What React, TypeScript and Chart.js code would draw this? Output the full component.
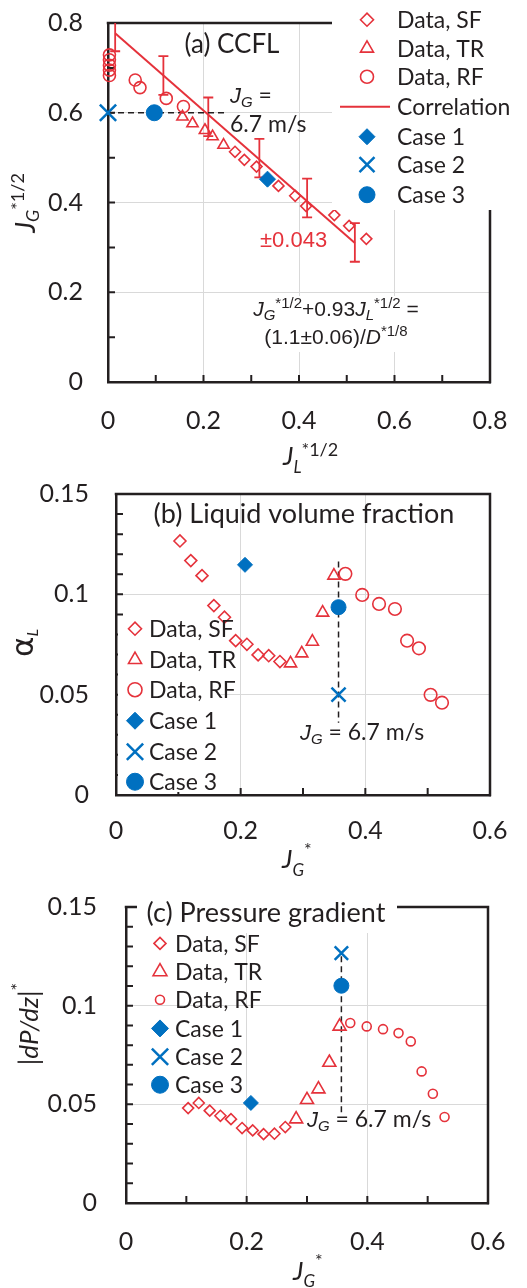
import React, { useEffect, useRef } from 'react';
import { Chart, registerables } from 'chart.js';

Chart.register(...registerables);

const RED = '#E5323B';
const BLUE = '#0070C0';
const INK = '#231F20';
const GRID = '#D9D9D9';
const SANS = 'Lato, "Open Sans", sans-serif';
const ARIAL = '"Liberation Sans", Arial, sans-serif';
const SYMBOL = '"DejaVu Sans", sans-serif';

// ---------- (a) CCFL: JG*^1/2 versus JL*^1/2 ----------
const ccflSfX = [0.266, 0.2855, 0.311, 0.357, 0.392, 0.415, 0.474, 0.505, 0.541];
const ccflSfY = [0.513, 0.495, 0.48, 0.437, 0.415, 0.392, 0.372, 0.348, 0.319];
const ccflTrX = [0.156, 0.177, 0.203, 0.219, 0.242];
const ccflTrY = [0.591, 0.576, 0.561, 0.547, 0.528];
const ccflRfX = [0.003, 0.003, 0.003, 0.003, 0.003, 0.057, 0.067, 0.122, 0.158];
const ccflRfY = [0.729, 0.718, 0.706, 0.695, 0.683, 0.673, 0.656, 0.632, 0.614];
const correlationX = [0.015, 0.517];
const correlationY = [0.777, 0.31];
const errBarX = [0.015, 0.116, 0.21, 0.317, 0.417, 0.517];
const errBarY = [0.78, 0.683, 0.591, 0.499, 0.41, 0.311];
const errBarHalf = 0.043;
// Case 1, Case 2, Case 3
const ccflCaseX = [0.334, 0, 0.097];
const ccflCaseY = [0.452, 0.6, 0.6];
const ccflGuideX = [0, 0.25];
const ccflGuideY = [0.6, 0.6];
const ccflTicks = [0, 0.1, 0.2, 0.3, 0.4, 0.5, 0.6, 0.7, 0.8];
const ccflLabels = [0, 0.2, 0.4, 0.6, 0.8];

// ---------- (b) liquid volume fraction versus JG* ----------
const alphaSfX = [0.1026, 0.12, 0.138, 0.157, 0.174, 0.192, 0.21, 0.228, 0.245, 0.263];
const alphaSfY = [0.1266, 0.1168, 0.1093, 0.0944, 0.0886, 0.0769, 0.0751, 0.0698, 0.0694, 0.0665];
const alphaTrX = [0.28, 0.298, 0.315, 0.3315, 0.3496];
const alphaTrY = [0.0656, 0.0706, 0.0764, 0.0909, 0.1093];
const alphaRfX = [0.368, 0.395, 0.422, 0.4475, 0.467, 0.486, 0.5047, 0.523];
const alphaRfY = [0.1102, 0.0997, 0.0952, 0.0927, 0.0769, 0.0731, 0.0499, 0.046];
const alphaCaseX = [0.207, 0.357, 0.357];
const alphaCaseY = [0.1147, 0.05, 0.0936];
const alphaGuideX = [0.357, 0.357];
const alphaGuideY = [0.1163, 0.036];

// ---------- (c) pressure gradient versus JG* ----------
const dpSfX = [0.103, 0.1206, 0.1388, 0.1565, 0.174, 0.1924, 0.21, 0.228, 0.246, 0.264];
const dpSfY = [0.0481, 0.0507, 0.0468, 0.0442, 0.0425, 0.038, 0.0368, 0.0349, 0.0351, 0.0385];
const dpTrX = [0.282, 0.3, 0.319, 0.337, 0.354];
const dpTrY = [0.0425, 0.0523, 0.0577, 0.0712, 0.0895];
const dpRfX = [0.3717, 0.399, 0.426, 0.4517, 0.472, 0.49, 0.5086, 0.528];
const dpRfY = [0.0912, 0.0895, 0.0881, 0.0861, 0.0819, 0.0667, 0.0554, 0.0436];
const dpCaseX = [0.207, 0.357, 0.357];
const dpCaseY = [0.0507, 0.1266, 0.1101];
const dpGuideX = [0.357, 0.357];
const dpGuideY = [0.125, 0.0447];

const jgTicks = [0, 0.1, 0.2, 0.3, 0.4, 0.5, 0.6];
const jgLabels = [0, 0.2, 0.4, 0.6];
const smallTicks = [0, 0.01, 0.02, 0.03, 0.04, 0.05, 0.06, 0.07, 0.08, 0.09, 0.1, 0.11, 0.12, 0.13, 0.14, 0.15];
const smallLabels = [0, 0.05, 0.1, 0.15];

// ---------- drawing helpers ----------
type Part = { t: string; f: string; dy?: number; c?: string };
type Mark = { label: string; style: string; r: number; color: string; fill: boolean; lw: number };

const LEGEND_SIZE = 23;

function drawRich(ctx: CanvasRenderingContext2D, x: number, y: number, parts: Part[], align = 'left', color = INK) {
  let total = 0;
  for (const p of parts) {
    ctx.font = p.f;
    total += ctx.measureText(p.t).width;
  }
  let cx = align === 'left' ? x : align === 'center' ? x - total / 2 : x - total;
  ctx.textAlign = 'left';
  ctx.textBaseline = 'alphabetic';
  for (const p of parts) {
    ctx.font = p.f;
    ctx.fillStyle = p.c || color;
    ctx.fillText(p.t, cx, y + (p.dy || 0));
    cx += ctx.measureText(p.t).width;
  }
}

function drawRichUp(ctx: CanvasRenderingContext2D, x: number, y: number, parts: Part[]) {
  ctx.save();
  ctx.translate(x, y);
  ctx.rotate(-Math.PI / 2);
  drawRich(ctx, 0, 0, parts, 'center');
  ctx.restore();
}

function drawMarker(ctx: CanvasRenderingContext2D, m: Mark, x: number, y: number) {
  const r = m.r;
  ctx.save();
  ctx.strokeStyle = m.color;
  ctx.fillStyle = m.color;
  ctx.lineWidth = m.lw;
  ctx.beginPath();
  if (m.style === 'line') {
    ctx.moveTo(x - 27, y);
    ctx.lineTo(x + 23, y);
  } else if (m.style === 'rectRot') {
    ctx.moveTo(x - r, y);
    ctx.lineTo(x, y - r);
    ctx.lineTo(x + r, y);
    ctx.lineTo(x, y + r);
    ctx.closePath();
  } else if (m.style === 'triangle') {
    ctx.moveTo(x, y - r);
    ctx.lineTo(x + 0.866 * r, y + 0.5 * r);
    ctx.lineTo(x - 0.866 * r, y + 0.5 * r);
    ctx.closePath();
  } else if (m.style === 'crossRot') {
    const o = r * Math.SQRT1_2;
    ctx.moveTo(x - o, y - o);
    ctx.lineTo(x + o, y + o);
    ctx.moveTo(x + o, y - o);
    ctx.lineTo(x - o, y + o);
  } else {
    ctx.arc(x, y, r, 0, Math.PI * 2);
  }
  if (m.fill) ctx.fill();
  ctx.stroke();
  ctx.restore();
}

function drawLegend(ctx: CanvasRenderingContext2D, marks: Mark[], mx: number, tx: number, baselines: number[], size: number) {
  marks.forEach((m, i) => {
    const by = baselines[i];
    drawMarker(ctx, m, mx, by - 0.36 * size);
    ctx.font = `${size}px ${SANS}`;
    ctx.fillStyle = INK;
    ctx.textAlign = 'left';
    ctx.textBaseline = 'alphabetic';
    ctx.fillText(m.label, tx, by);
  });
}

// inward tick marks plus the top and right edges of the plot frame
function drawFrame(chart: any) {
  const { ctx, chartArea: a } = chart;
  const xs = chart.scales.x;
  const ys = chart.scales.y;
  ctx.save();
  ctx.strokeStyle = INK;
  ctx.lineWidth = 2;
  ctx.beginPath();
  for (const t of xs.ticks) {
    if (t.value === xs.min) continue;
    const px = xs.getPixelForValue(t.value);
    ctx.moveTo(px, a.bottom);
    ctx.lineTo(px, a.bottom - 7);
  }
  for (const t of ys.ticks) {
    if (t.value === ys.min) continue;
    const py = ys.getPixelForValue(t.value);
    ctx.moveTo(a.left, py);
    ctx.lineTo(a.left + 7, py);
  }
  ctx.stroke();
  ctx.lineWidth = 2.5;
  ctx.beginPath();
  ctx.moveTo(a.left - 1.25, a.top);
  ctx.lineTo(a.right, a.top);
  ctx.lineTo(a.right, a.bottom + 1.25);
  ctx.stroke();
  ctx.restore();
}

function linAxis(kind: 'x' | 'y', ticks: number[], labels: number[], size: number, pad: number, fontSize = 25) {
  const min = ticks[0];
  const max = ticks[ticks.length - 1];
  return {
    type: 'linear',
    position: kind === 'x' ? 'bottom' : 'left',
    min,
    max,
    afterBuildTicks: (s: any) => {
      s.ticks = ticks.map((v) => ({ value: v }));
    },
    afterFit: (s: any) => {
      if (kind === 'x') s.height = size;
      else s.width = size;
      s.paddingTop = 0;
      s.paddingBottom = 0;
      s.paddingLeft = 0;
      s.paddingRight = 0;
    },
    ticks: {
      autoSkip: false,
      maxRotation: 0,
      minRotation: 0,
      padding: pad,
      color: INK,
      font: { family: SANS, size: fontSize },
      callback: (v: number) => (labels.includes(v) ? String(v) : ''),
    },
    grid: {
      drawTicks: false,
      lineWidth: 1,
      color: (c: any) => {
        const v = c.tick ? c.tick.value : undefined;
        return v !== undefined && v !== min && v !== max && labels.includes(v) ? GRID : 'rgba(0,0,0,0)';
      },
    },
    border: { display: true, color: INK, width: 2.5 },
  };
}

const pts = (xs: number[], ys: number[]) => xs.map((x, i) => ({ x, y: ys[i] }));

function markSet(m: Mark, xs: number[], ys: number[]) {
  return {
    label: m.label,
    data: pts(xs, ys),
    showLine: false,
    pointStyle: m.style,
    pointRadius: m.r,
    pointHoverRadius: m.r,
    pointBorderWidth: m.lw,
    pointBorderColor: m.color,
    pointBackgroundColor: m.fill ? m.color : 'rgba(0,0,0,0)',
    borderColor: m.color,
    backgroundColor: m.color,
    clip: false,
  };
}

function lineSet(label: string, xs: number[], ys: number[], color: string, width: number, dash: number[] = []) {
  return {
    label,
    data: pts(xs, ys),
    showLine: true,
    pointRadius: 0,
    borderColor: color,
    borderWidth: width,
    borderDash: dash,
    fill: false,
    clip: false,
  };
}

function baseOptions(padding: any, x: any, y: any) {
  return {
    responsive: false,
    animation: false,
    devicePixelRatio: 1,
    events: [],
    layout: { padding },
    scales: { x, y },
    plugins: { legend: { display: false }, tooltip: { enabled: false } },
  };
}

const jgEq: Part[] = [
  { t: 'J', f: `italic 22px ${ARIAL}` },
  { t: 'G', f: `italic 15px ${ARIAL}`, dy: 4 },
  { t: ' = 6.7 m/s', f: `23px ${SANS}` },
];

// ---------- panel (a) ----------
function ccflConfig(): any {
  const sf: Mark = { label: 'Data, SF', style: 'rectRot', r: 5.5, color: RED, fill: false, lw: 1.6 };
  const tr: Mark = { label: 'Data, TR', style: 'triangle', r: 6.5, color: RED, fill: false, lw: 1.6 };
  const rf: Mark = { label: 'Data, RF', style: 'circle', r: 6, color: RED, fill: false, lw: 1.6 };
  const c1: Mark = { label: 'Case 1', style: 'rectRot', r: 8, color: BLUE, fill: true, lw: 1 };
  const c2: Mark = { label: 'Case 2', style: 'crossRot', r: 11.5, color: BLUE, fill: false, lw: 2.5 };
  const c3: Mark = { label: 'Case 3', style: 'circle', r: 8, color: BLUE, fill: true, lw: 1 };
  const legendMarks: Mark[] = [
    { ...sf, r: 6.5 },
    { ...tr, r: 7.5 },
    { ...rf, r: 6.5 },
    { label: 'Correlation', style: 'line', r: 0, color: RED, fill: false, lw: 2 },
    { ...c1, r: 8 },
    { ...c2, r: 10.6 },
    { ...c3, r: 8 },
  ];
  return {
    type: 'scatter',
    data: {
      datasets: [
        markSet(c3, [ccflCaseX[2]], [ccflCaseY[2]]),
        markSet(c2, [ccflCaseX[1]], [ccflCaseY[1]]),
        markSet(c1, [ccflCaseX[0]], [ccflCaseY[0]]),
        markSet(sf, ccflSfX, ccflSfY),
        markSet(tr, ccflTrX, ccflTrY),
        markSet(rf, ccflRfX, ccflRfY),
        lineSet('Correlation', correlationX, correlationY, RED, 2),
        lineSet('JG = 6.7 m/s', ccflGuideX, ccflGuideY, INK, 1.5, [6, 4]),
      ],
    },
    options: baseOptions(
      { left: 0, top: 23, right: 37, bottom: 38 },
      linAxis('x', ccflTicks, ccflLabels, 60, 24),
      linAxis('y', ccflTicks, ccflLabels, 108, 25)
    ),
    plugins: [
      {
        id: 'ccflDecor',
        beforeDatasetsDraw(chart: any) {
          drawFrame(chart);
          const { ctx, chartArea: a, scales } = chart;
          ctx.save();
          ctx.beginPath();
          ctx.rect(a.left, a.top, a.right - a.left, a.bottom - a.top);
          ctx.clip();
          ctx.strokeStyle = RED;
          ctx.lineWidth = 1.8;
          ctx.beginPath();
          errBarX.forEach((xv, i) => {
            const px = scales.x.getPixelForValue(xv);
            const top = scales.y.getPixelForValue(errBarY[i] + errBarHalf);
            const bot = scales.y.getPixelForValue(errBarY[i] - errBarHalf);
            ctx.moveTo(px, top);
            ctx.lineTo(px, bot);
            ctx.moveTo(px - 5, top);
            ctx.lineTo(px + 5, top);
            ctx.moveTo(px - 5, bot);
            ctx.lineTo(px + 5, bot);
          });
          ctx.stroke();
          ctx.restore();
        },
        afterDatasetsDraw(chart: any) {
          const { ctx } = chart;
          ctx.save();
          ctx.fillStyle = '#fff';
          ctx.fillRect(332, 0, 195, 210);
          drawLegend(ctx, legendMarks, 367, 397, [28, 56.7, 85, 115, 145, 173, 203], LEGEND_SIZE);
          drawRich(ctx, 232, 53, [{ t: '(a) CCFL', f: `26px ${SANS}` }], 'center');
          drawRich(ctx, 230, 103, [
            { t: 'J', f: `italic 22px ${ARIAL}` },
            { t: 'G', f: `italic 15px ${ARIAL}`, dy: 4 },
            { t: ' =', f: `23px ${SANS}` },
          ]);
          drawRich(ctx, 230, 132, [{ t: '6.7 m/s', f: `23px ${SANS}` }]);
          drawRich(ctx, 260, 247, [{ t: '±0.043', f: `22px ${ARIAL}`, c: RED }]);
          ctx.fillStyle = '#fff';
          ctx.fillRect(238, 296, 198, 56);
          drawRich(ctx, 336, 316, [
            { t: 'J', f: `italic 21px ${ARIAL}` },
            { t: 'G', f: `italic 15px ${ARIAL}`, dy: 4 },
            { t: '*1/2', f: `15px ${ARIAL}`, dy: -8 },
            { t: '+0.93', f: `21px ${ARIAL}` },
            { t: 'J', f: `italic 21px ${ARIAL}` },
            { t: 'L', f: `italic 15px ${ARIAL}`, dy: 4 },
            { t: '*1/2', f: `15px ${ARIAL}`, dy: -8 },
            { t: ' =', f: `21px ${ARIAL}` },
          ], 'center');
          drawRich(ctx, 336, 344, [
            { t: '(1.1±0.06)/', f: `21px ${ARIAL}` },
            { t: 'D', f: `italic 21px ${ARIAL}` },
            { t: '*1/8', f: `15px ${ARIAL}`, dy: -8 },
          ], 'center');
          // axis titles
          drawRich(ctx, 283, 465, [
            { t: 'J', f: `italic 26px ${SANS}` },
            { t: 'L', f: `italic 17px ${SANS}`, dy: 8 },
            { t: '*1/2', f: `18px ${SANS}`, dy: -9 },
          ]);
          drawRichUp(ctx, 35, 203, [
            { t: 'J', f: `italic 27px ${SANS}` },
            { t: 'G', f: `italic 18px ${SANS}`, dy: 4 },
            { t: '*1/2', f: `18px ${SANS}`, dy: -11 },
          ]);
          ctx.restore();
        },
      },
    ],
  };
}

// ---------- panel (b) ----------
function alphaConfig(): any {
  const sf: Mark = { label: 'Data, SF', style: 'rectRot', r: 6, color: RED, fill: false, lw: 1.6 };
  const tr: Mark = { label: 'Data, TR', style: 'triangle', r: 7, color: RED, fill: false, lw: 1.6 };
  const rf: Mark = { label: 'Data, RF', style: 'circle', r: 6.3, color: RED, fill: false, lw: 1.6 };
  const c1: Mark = { label: 'Case 1', style: 'rectRot', r: 7.5, color: BLUE, fill: true, lw: 1 };
  const c2: Mark = { label: 'Case 2', style: 'crossRot', r: 10, color: BLUE, fill: false, lw: 2.5 };
  const c3: Mark = { label: 'Case 3', style: 'circle', r: 7.5, color: BLUE, fill: true, lw: 1 };
  const legendMarks: Mark[] = [
    { ...sf, r: 6.5 },
    { ...tr, r: 7.5 },
    { ...rf, r: 7 },
    { ...c1, r: 8.5 },
    { ...c2, r: 11.5 },
    { ...c3, r: 8.5 },
  ];
  return {
    type: 'scatter',
    data: {
      datasets: [
        markSet(c3, [alphaCaseX[2]], [alphaCaseY[2]]),
        markSet(c2, [alphaCaseX[1]], [alphaCaseY[1]]),
        markSet(c1, [alphaCaseX[0]], [alphaCaseY[0]]),
        markSet(sf, alphaSfX, alphaSfY),
        markSet(tr, alphaTrX, alphaTrY),
        markSet(rf, alphaRfX, alphaRfY),
        lineSet('JG = 6.7 m/s', alphaGuideX, alphaGuideY, INK, 1.5, [6, 4]),
      ],
    },
    options: baseOptions(
      { left: 0, top: 14, right: 37, bottom: 25 },
      linAxis('x', jgTicks, jgLabels, 60, 21),
      linAxis('y', smallTicks, smallLabels, 116, 27)
    ),
    plugins: [
      {
        id: 'alphaDecor',
        beforeDatasetsDraw(chart: any) {
          drawFrame(chart);
        },
        afterDatasetsDraw(chart: any) {
          const { ctx } = chart;
          ctx.save();
          ctx.fillStyle = '#fff';
          ctx.fillRect(118, 140, 99, 172);
          drawLegend(ctx, legendMarks, 135, 149, [157, 188, 218, 249, 280, 310], LEGEND_SIZE);
          drawRich(ctx, 304, 43, [{ t: '(b) Liquid volume fraction', f: `27px ${SANS}` }], 'center');
          drawRich(ctx, 300, 260, jgEq);
          drawRich(ctx, 282, 388, [
            { t: 'J', f: `italic 26px ${SANS}` },
            { t: 'G', f: `italic 17px ${SANS}`, dy: 8 },
            { t: '*', f: `18px ${SANS}`, dy: -12 },
          ]);
          drawRichUp(ctx, 33, 163, [
            { t: 'α', f: `31px ${SYMBOL}` },
            { t: 'L', f: `italic 16px ${SANS}`, dy: 5 },
          ]);
          ctx.restore();
        },
      },
    ],
  };
}

// ---------- panel (c) ----------
function dpConfig(): any {
  const sf: Mark = { label: 'Data, SF', style: 'rectRot', r: 5.5, color: RED, fill: false, lw: 1.6 };
  const tr: Mark = { label: 'Data, TR', style: 'triangle', r: 7.5, color: RED, fill: false, lw: 1.6 };
  const rf: Mark = { label: 'Data, RF', style: 'circle', r: 4.5, color: RED, fill: false, lw: 1.6 };
  const c1: Mark = { label: 'Case 1', style: 'rectRot', r: 7.5, color: BLUE, fill: true, lw: 1 };
  const c2: Mark = { label: 'Case 2', style: 'crossRot', r: 9.5, color: BLUE, fill: false, lw: 2.5 };
  const c3: Mark = { label: 'Case 3', style: 'circle', r: 7.5, color: BLUE, fill: true, lw: 1 };
  const legendMarks: Mark[] = [
    { ...sf, r: 6 },
    { ...tr, r: 8 },
    { ...rf, r: 4.5 },
    { ...c1, r: 8.5 },
    { ...c2, r: 11.5 },
    { ...c3, r: 8.5 },
  ];
  return {
    type: 'scatter',
    data: {
      datasets: [
        markSet(c3, [dpCaseX[2]], [dpCaseY[2]]),
        markSet(c2, [dpCaseX[1]], [dpCaseY[1]]),
        markSet(c1, [dpCaseX[0]], [dpCaseY[0]]),
        markSet(sf, dpSfX, dpSfY),
        markSet(tr, dpTrX, dpTrY),
        markSet(rf, dpRfX, dpRfY),
        lineSet('JG = 6.7 m/s', dpGuideX, dpGuideY, INK, 1.5, [6, 4]),
      ],
    },
    options: baseOptions(
      { left: 0, top: 27, right: 39, bottom: 25 },
      linAxis('x', jgTicks, jgLabels, 60, 24),
      linAxis('y', smallTicks, smallLabels, 126, 29)
    ),
    plugins: [
      {
        id: 'dpDecor',
        beforeDatasetsDraw(chart: any) {
          drawFrame(chart);
        },
        afterDatasetsDraw(chart: any) {
          const { ctx } = chart;
          ctx.save();
          ctx.fillStyle = '#fff';
          ctx.fillRect(137, 10, 260, 43);
          drawRich(ctx, 266, 42, [{ t: '(c) Pressure gradient', f: `27px ${SANS}` }], 'center');
          drawLegend(ctx, legendMarks, 160, 175, [71.7, 100, 128, 156.7, 185, 213], LEGEND_SIZE);
          drawRich(ctx, 307, 247, jgEq);
          drawRich(ctx, 293, 400, [
            { t: 'J', f: `italic 26px ${SANS}` },
            { t: 'G', f: `italic 17px ${SANS}`, dy: 7 },
            { t: '*', f: `18px ${SANS}`, dy: -13 },
          ]);
          drawRichUp(ctx, 38, 144, [
            { t: '|', f: `26px ${SANS}` },
            { t: 'dP/dz', f: `italic 26px ${SANS}` },
            { t: '|', f: `26px ${SANS}` },
            { t: '*', f: `18px ${SANS}`, dy: -14 },
          ]);
          ctx.restore();
        },
      },
    ],
  };
}

function Panel({ top, height, make }: { top: number; height: number; make: () => any }) {
  const ref = useRef<HTMLCanvasElement>(null);
  useEffect(() => {
    const chart = new Chart(ref.current as HTMLCanvasElement, make());
    return () => chart.destroy();
  }, [make]);
  return (
    <canvas
      ref={ref}
      width={527}
      height={height}
      style={{ position: 'absolute', left: 0, top, width: 527, height, display: 'block' }}
    />
  );
}

export default function App() {
  return (
    <div style={{ position: 'absolute', left: 0, top: 0, width: 527, height: 1288, background: '#fff', overflow: 'hidden' }}>
      <Panel top={0} height={480} make={ccflConfig} />
      <Panel top={480} height={400} make={alphaConfig} />
      <Panel top={880} height={408} make={dpConfig} />
    </div>
  );
}
